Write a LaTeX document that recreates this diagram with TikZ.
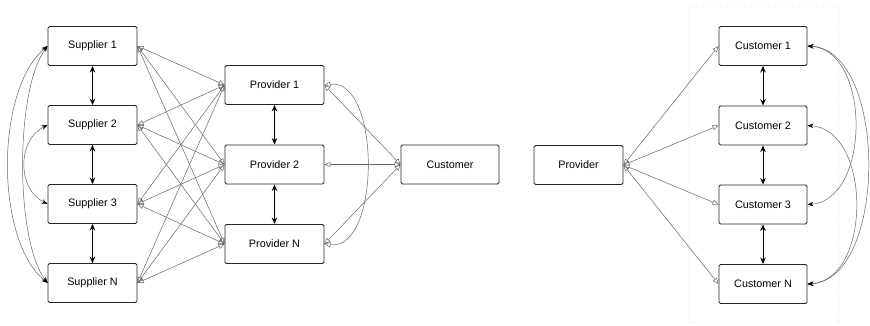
\documentclass[tikz,border=0pt]{standalone}
\usepackage{fontspec}
\setmainfont{Liberation Sans}
\usetikzlibrary{arrows.meta, positioning}
\definecolor{lineGray}{gray}{0.4}
\definecolor{boxBlack}{gray}{0.15}

\begin{document}
\begin{tikzpicture}[x=1pt, y=-1pt,
    box/.style={draw=boxBlack, line width=0.9pt, rounded corners=1.5pt, minimum width=89pt, minimum height=39pt, font=\fontsize{10.8}{12}\selectfont},
    link/.style={lineGray, line width=0.5pt, {Triangle[open, length=6pt, width=5pt]}-{Triangle[open, length=6pt, width=5pt]}},
    swap/.style={black, line width=1pt, {Stealth[length=6.5pt, width=5.5pt]}-{Stealth[length=6.5pt, width=5.5pt]}},
    loop/.style={lineGray, line width=0.5pt, {Stealth[length=6pt, width=4.5pt, black]}-{Stealth[length=6pt, width=4.5pt, black]}}]
    \useasboundingbox (0,0) rectangle (870,325);

    % Suppliers
    \node[box] (s1) at (92.5,46) {Supplier 1};
    \node[box] (s2) at (92.5,125) {Supplier 2};
    \node[box] (s3) at (92.5,204) {Supplier 3};
    \node[box] (sn) at (92.5,283) {Supplier N};

    % Providers
    \node[box, minimum width=99pt] (p1) at (274.5,85) {Provider 1};
    \node[box, minimum width=99pt] (p2) at (274.5,164.5) {Provider 2};
    \node[box, minimum width=99pt] (pn) at (274.5,244) {Provider N};
    \node[box, minimum width=98pt] (cust) at (450,164.5) {Customer};

    % Right part
    \node[box] (prov) at (578.5,165) {Provider};
    \node[box, minimum width=88pt] (c1) at (763,46) {Customer 1};
    \node[box, minimum width=88pt] (c2) at (763,125.5) {Customer 2};
    \node[box, minimum width=88pt] (c3) at (763,204.5) {Customer 3};
    \node[box, minimum width=88pt] (cn) at (763,284) {Customer N};
    \draw[dotted, gray!85!black, rounded corners=2pt] (689,6) rectangle (839,323);

    % Neighbours
    \draw[swap] (s1) -- (s2);
    \draw[swap] (s2) -- (s3);
    \draw[swap] (s3) -- (sn);
    \draw[swap] (p1) -- (p2);
    \draw[swap] (p2) -- (pn);
    \draw[swap] (c1) -- (c2);
    \draw[swap] (c2) -- (c3);
    \draw[swap] (c3) -- (cn);

    % Suppliers to providers
    \draw[link] (s1.east) -- (p1.west);
    \draw[link] (s1.east) -- (p2.west);
    \draw[link] (s1.east) -- (pn.west);
    \draw[link] (s2.east) -- (p1.west);
    \draw[link] (s2.east) -- (p2.west);
    \draw[link] (s2.east) -- (pn.west);
    \draw[link] (s3.east) -- (p1.west);
    \draw[link] (s3.east) -- (p2.west);
    \draw[link] (s3.east) -- (pn.west);
    \draw[link] (sn.east) -- (p1.west);
    \draw[link] (sn.east) -- (p2.west);
    \draw[link] (sn.east) -- (pn.west);

    % Providers to customer
    \draw[link] (p1.east) -- (cust.west);
    \draw[link] (p2.east) -- (cust.west);
    \draw[link] (pn.east) -- (cust.west);
    \draw[link] (p1.east) .. controls (381,78) and (381,251) .. (pn.east);

    % Provider to customers
    \draw[link] (prov.east) -- (c1.west);
    \draw[link] (prov.east) -- (c2.west);
    \draw[link] (prov.east) -- (c3.west);
    \draw[link] (prov.east) -- (cn.west);

    % Far links
    \draw[loop] (s1.west) .. controls (-5,90) and (-5,240) .. (sn.west);
    \draw[loop] (s1.west) .. controls (15,90) and (15,240) .. (sn.west);
    \draw[loop] (s2.west) .. controls (17,140) and (17,189) .. (s3.west);
    \draw[loop] (c1.east) .. controls (871,50) and (871,200) .. (c3.east);
    \draw[loop] (c1.east) .. controls (888,50) and (888,280) .. (cn.east);
    \draw[loop] (c2.east) .. controls (872,130) and (872,280) .. (cn.east);
\end{tikzpicture}
\end{document}
